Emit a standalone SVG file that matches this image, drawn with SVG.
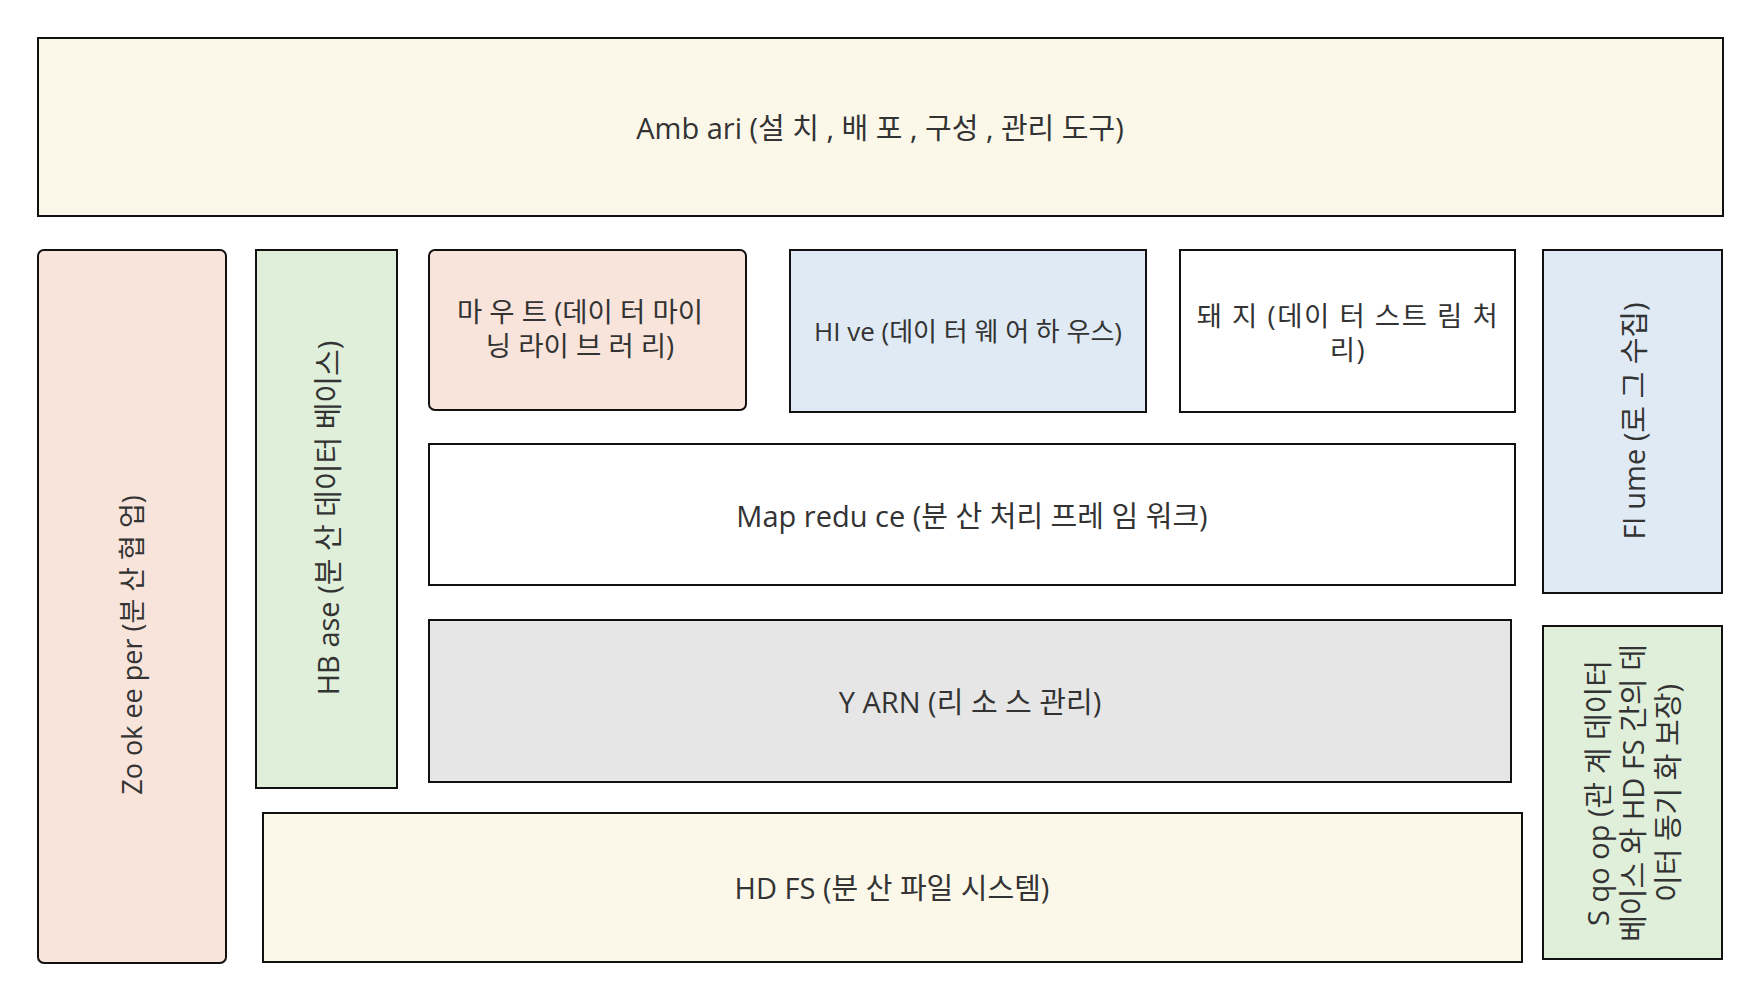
<svg xmlns="http://www.w3.org/2000/svg" width="1759" height="999" viewBox="0 0 1759 999">
<style>
.box{stroke:#111;stroke-width:2}
.t{font-family:"Open Sans","Noto Sans CJK KR",sans-serif;fill:#333;text-anchor:middle;dominant-baseline:central;font-size:29px}
.s{font-size:26px}
.m{font-size:27.5px}
.p{font-size:27.5px;letter-spacing:1.5px}
.z{font-size:27px}
.cream{fill:#fbf8ea}.peach{fill:#f8e4da}.green{fill:#e0efd9}.blue{fill:#dfeaf4}.white{fill:#fff}.gray{fill:#e6e6e6}
</style>
<rect width="1759" height="999" fill="#fff"/>
<g id="ambari"><rect class="box cream" x="38" y="38" width="1685" height="178"/><text class="t" x="880" y="127">Amb ari (설 치 , 배 포 , 구성 , 관리 도구)</text></g>
<g id="zookeeper"><rect class="box peach" x="38" y="250" width="188" height="713" rx="6"/><text class="t z" transform="translate(131,645) rotate(-90)">Zo ok ee per (분 산 협 업)</text></g>
<g id="hbase"><rect class="box green" x="256" y="250" width="141" height="538"/><text class="t" transform="translate(327,518) rotate(-90)">HB ase (분 산 데이터 베이스)</text></g>
<g id="mahout"><rect class="box peach" x="429" y="250" width="317" height="160" rx="6"/><text class="t m"><tspan x="580" y="311">마 우 트 (데이 터 마이</tspan><tspan x="580" y="345">닝 라이 브 러 리)</tspan></text></g>
<g id="hive"><rect class="box blue" x="790" y="250" width="356" height="162"/><text class="t s" x="968" y="331">HI ve (데이 터 웨 어 하 우스)</text></g>
<g id="pig"><rect class="box white" x="1180" y="250" width="335" height="162"/><text class="t p"><tspan x="1348" y="315">돼 지 (데이 터 스트 림 처</tspan><tspan x="1348" y="349">리)</tspan></text></g>
<g id="flume"><rect class="box blue" x="1543" y="250" width="179" height="343"/><text class="t" transform="translate(1633,421) rotate(-90)">Fl ume (로 그 수집)</text></g>
<g id="mapreduce"><rect class="box white" x="429" y="444" width="1086" height="141"/><text class="t" x="972" y="515">Map redu ce (분 산 처리 프레 임 워크)</text></g>
<g id="yarn"><rect class="box gray" x="429" y="620" width="1082" height="162"/><text class="t" x="970" y="701">Y ARN (리 소 스 관리)</text></g>
<g id="sqoop"><rect class="box green" x="1543" y="626" width="179" height="333"/><text class="t" transform="translate(1632,793) rotate(-90)"><tspan x="0" dy="-35">S qo op (관 계 데이터</tspan><tspan x="0" dy="35">베이스 와 HD FS 간의 데</tspan><tspan x="0" dy="35">이터 동기 화 보장)</tspan></text></g>
<g id="hdfs"><rect class="box cream" x="263" y="813" width="1259" height="149"/><text class="t" x="892" y="887">HD FS (분 산 파일 시스템)</text></g>
<g id="connectors"></g>
</svg>
